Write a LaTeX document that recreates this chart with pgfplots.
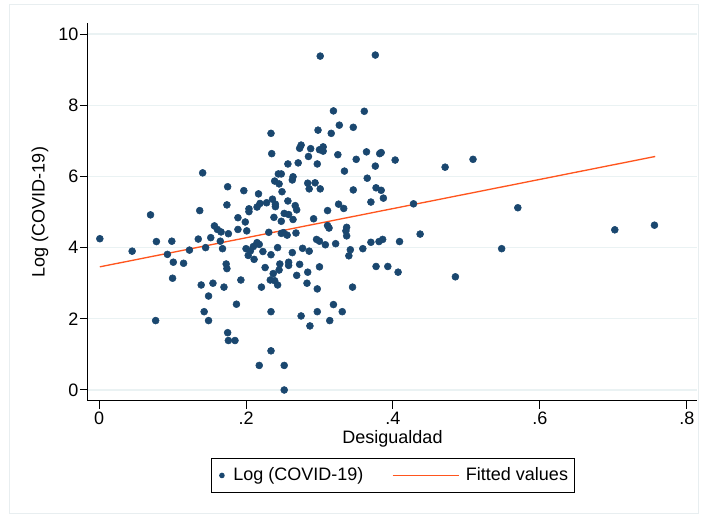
\documentclass[border=0pt]{standalone}
\usepackage{fontspec}
\setmainfont{Liberation Sans}
\usepackage{pgfplots}
\pgfplotsset{compat=1.18}
\definecolor{statanavy}{RGB}{26,71,111}
\definecolor{fitorange}{RGB}{255,85,30}
\definecolor{gridgray}{RGB}{234,242,243}
\definecolor{framegray}{RGB}{232,238,240}

\begin{document}
\begin{tikzpicture}[x=1pt,y=1pt]
\begin{axis}[
  at={(0,0)}, anchor=south west,
  scale only axis, width=456.75pt, height=283.5pt,
  xmin=-0.0151, xmax=0.8139, ymin=-0.309, ymax=10.31,
  axis x line*=bottom, axis y line*=left,
  axis line style={line width=0.75pt, black},
  xtick={0,0.2,0.4,0.6,0.8}, xticklabels={0,.2,.4,.6,.8},
  ytick={0,2,4,6,8,10}, yticklabels={0,2,4,6,8,10},
  tick align=outside, major tick length=6pt,
  tick style={line width=0.75pt, black},
  ymajorgrids, grid style={gridgray, line width=1pt},
  font=\fontsize{13.5}{16}\selectfont,
  yticklabel style={inner sep=1pt},
  xticklabel style={inner sep=2pt},
  xlabel={Desigualdad}, ylabel={Log (COVID-19)},
  xlabel style={at={(axis description cs:0.5,-0.1005)}, anchor=center},
  ylabel style={at={(axis description cs:-0.0788,0.5)}, anchor=center},
  legend columns=2,
  legend style={at={(0.5008,-0.197)}, anchor=center, draw=black, line width=0.75pt,
    font=\fontsize{13.5}{16}\selectfont, inner xsep=3pt, inner ysep=5pt,
    /tikz/every even column/.append style={column sep=19.5pt}},
]
\addplot[only marks, mark=*, mark size=2.6pt, mark options={draw=statanavy, fill=statanavy},
  legend image code/.code={\path[draw=none, fill=none] (0pt,0pt) -- (11.5pt,0pt); \fill[statanavy] (5pt,0pt) circle (1.7pt);}]
coordinates {
(0.001,4.25)(0.045,3.90)(0.070,4.92)(0.078,4.17)(0.077,1.95)(0.093,3.81)
(0.099,4.18)(0.101,3.59)(0.100,3.14)(0.115,3.56)(0.123,3.93)(0.135,4.24)
(0.137,5.04)(0.139,2.95)(0.141,6.10)(0.143,2.20)(0.145,4.00)(0.149,2.64)
(0.149,1.95)(0.152,4.28)(0.155,3.00)(0.157,4.61)(0.161,4.51)(0.166,4.44)
(0.165,4.18)(0.168,3.97)(0.170,2.89)(0.173,3.54)(0.174,3.41)(0.174,5.20)
(0.176,4.39)(0.175,5.71)(0.175,1.61)(0.176,1.39)(0.185,1.39)(0.187,2.41)
(0.189,4.84)(0.189,4.51)(0.193,3.09)(0.197,5.60)(0.199,4.72)(0.200,3.97)
(0.201,4.47)(0.203,3.78)(0.204,5.09)(0.204,5.01)(0.206,3.91)(0.210,4.03)
(0.211,3.67)(0.215,5.14)(0.215,4.14)(0.217,5.51)(0.218,4.09)(0.219,5.24)
(0.218,0.69)(0.221,2.89)(0.223,3.89)(0.226,3.44)(0.228,5.26)(0.231,4.43)
(0.233,3.09)(0.234,3.80)(0.234,7.21)(0.234,2.20)(0.234,1.10)(0.235,6.64)
(0.236,5.36)(0.237,3.27)(0.239,3.07)(0.238,4.85)(0.239,5.87)(0.240,5.22)
(0.240,5.15)(0.243,4.00)(0.243,2.95)(0.244,6.07)(0.245,5.79)(0.246,3.54)
(0.245,3.37)(0.248,6.07)(0.248,4.74)(0.248,4.40)(0.249,5.57)(0.251,4.42)
(0.252,4.96)(0.252,0.69)(0.252,0.00)(0.256,4.35)(0.257,5.31)(0.257,6.35)
(0.258,4.93)(0.258,3.59)(0.258,3.50)(0.263,3.86)(0.263,5.90)(0.264,5.99)
(0.264,4.79)(0.267,5.18)(0.269,5.06)(0.268,4.41)(0.269,3.22)(0.271,6.38)
(0.273,3.53)(0.273,6.79)(0.275,6.88)(0.277,3.98)(0.275,2.08)(0.284,5.81)
(0.286,5.65)(0.284,3.31)(0.283,3.00)(0.285,6.56)(0.286,3.90)(0.287,1.80)
(0.288,6.78)(0.292,4.81)(0.294,5.82)(0.296,4.23)(0.297,6.35)(0.297,2.84)
(0.297,2.20)(0.298,7.30)(0.300,6.75)(0.300,4.18)(0.300,3.46)(0.301,5.65)
(0.301,9.38)(0.305,6.83)(0.305,6.71)(0.308,4.08)(0.311,5.04)(0.311,4.62)
(0.313,4.55)(0.314,1.95)(0.316,7.21)(0.319,7.84)(0.319,2.40)(0.322,4.11)
(0.325,6.61)(0.326,5.22)(0.327,7.44)(0.331,2.20)(0.333,5.10)(0.334,6.15)
(0.337,4.57)(0.336,4.47)(0.337,4.33)(0.340,3.77)(0.342,3.94)(0.345,2.89)
(0.346,5.62)(0.346,7.38)(0.350,6.48)(0.359,3.97)(0.361,7.83)(0.364,6.69)
(0.365,5.95)(0.370,5.28)(0.370,4.15)(0.376,9.41)(0.376,6.29)(0.377,5.68)
(0.377,3.47)(0.381,4.17)(0.382,6.64)(0.384,6.67)(0.384,5.61)(0.386,4.23)
(0.387,5.39)(0.393,3.47)(0.403,6.46)(0.407,3.31)(0.409,4.17)(0.428,5.23)
(0.437,4.38)(0.471,6.26)(0.485,3.18)(0.509,6.48)(0.548,3.97)(0.570,5.12)
(0.702,4.50)(0.756,4.63)
};
\addlegendentry{Log (COVID-19)}
\addplot[fitorange, line width=1pt,
  legend image code/.code={\path[draw=none] (0pt,0pt) -- (53pt,0pt); \draw[fitorange, line width=1pt] (0pt,0pt) -- (49.5pt,0pt);}]
coordinates {(0.001,3.46) (0.757,6.56)};
\addlegendentry{Fitted values}
\end{axis}
\draw[framegray, line width=0.75pt] (-58.5,-84.75) rectangle (457.5,297);
\useasboundingbox (-66,-86.25) rectangle (461.25,300.75);
\end{tikzpicture}
\end{document}
